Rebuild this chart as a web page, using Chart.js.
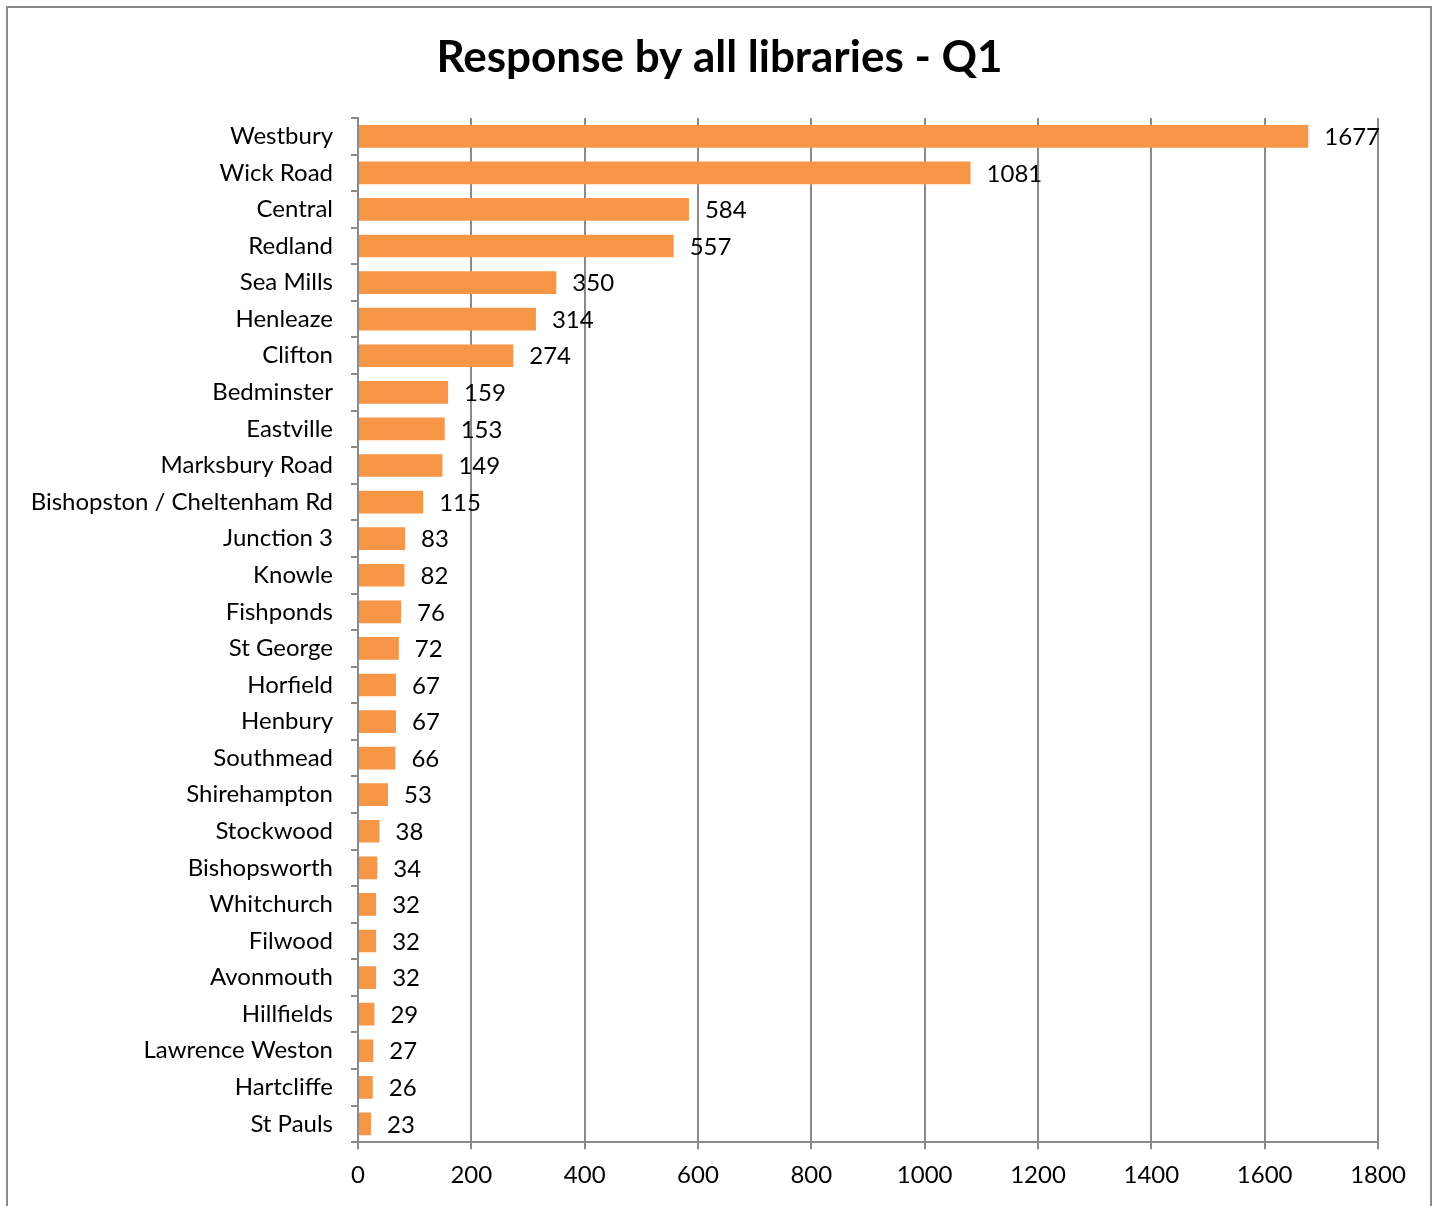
<!DOCTYPE html>
<html>
<head>
<meta charset="utf-8">
<title>Response by all libraries - Q1</title>
<script src="https://cdn.jsdelivr.net/npm/chart.js@4.4.1/dist/chart.umd.min.js"></script>
<style>
    html, body { margin: 0; padding: 0; background: #ffffff; overflow: hidden; }
    .frame {
        position: absolute;
        left: 6px;
        top: 6px;
        width: 1426px;
        height: 1220px;
        border: 2px solid #8a8a8a;
        box-sizing: border-box;
    }
    #libraryChart { position: absolute; left: 0; top: 0; }
</style>
</head>
<body>
<div class="frame"></div>
<canvas id="libraryChart" width="1439" height="1206"></canvas>
<script>
const chartTitle = 'Response by all libraries - Q1';
const libraries = [
    'Westbury', 'Wick Road', 'Central', 'Redland', 'Sea Mills', 'Henleaze', 'Clifton',
    'Bedminster', 'Eastville', 'Marksbury Road', 'Bishopston / Cheltenham Rd', 'Junction 3',
    'Knowle', 'Fishponds', 'St George', 'Horfield', 'Henbury', 'Southmead', 'Shirehampton',
    'Stockwood', 'Bishopsworth', 'Whitchurch', 'Filwood', 'Avonmouth', 'Hillfields',
    'Lawrence Weston', 'Hartcliffe', 'St Pauls'
];
const responses = [
    1677, 1081, 584, 557, 350, 314, 274,
    159, 153, 149, 115, 83,
    82, 76, 72, 67, 67, 66, 53,
    38, 34, 32, 32, 32, 29,
    27, 26, 23
];
const axisMax = 1800;
const axisStep = 200;

const FONT = 'Lato, "Open Sans", sans-serif';
const BAR_COLOR = '#F79646';
const GRID_COLOR = '#8a8a8a';

// title centred on the whole canvas rather than the padded layout box
const centredTitle = {
    id: 'centredTitle',
    afterDraw(chart) {
        const ctx = chart.ctx;
        ctx.save();
        ctx.font = `bold 44px ${FONT}`;
        ctx.fillStyle = '#000000';
        ctx.textAlign = 'center';
        ctx.textBaseline = 'middle';
        ctx.fillText(chartTitle, chart.width / 2, 58);
        ctx.restore();
    }
};

// writes each response count just past the end of its bar
const valueLabels = {
    id: 'valueLabels',
    afterDatasetsDraw(chart) {
        const ctx = chart.ctx;
        const meta = chart.getDatasetMeta(0);
        ctx.save();
        ctx.font = `24px ${FONT}`;
        ctx.fillStyle = '#000000';
        ctx.textAlign = 'left';
        ctx.textBaseline = 'middle';
        meta.data.forEach((bar, index) => {
            ctx.fillText(String(responses[index]), bar.x + 16, bar.y + 1);
        });
        ctx.restore();
    }
};

new Chart(document.getElementById('libraryChart'), {
    type: 'bar',
    data: {
        labels: libraries,
        datasets: [
            {
                label: 'Responses',
                data: responses,
                backgroundColor: BAR_COLOR,
                borderWidth: 0,
                barPercentage: 0.62,
                categoryPercentage: 1
            }
        ]
    },
    options: {
        indexAxis: 'y',
        responsive: false,
        animation: false,
        layout: {
            padding: { left: 10, right: 61, top: 118, bottom: 4 }
        },
        plugins: {
            legend: { display: false },
            tooltip: { enabled: false },
            title: { display: false }
        },
        scales: {
            x: {
                min: 0,
                max: axisMax,
                ticks: {
                    stepSize: axisStep,
                    color: '#000000',
                    padding: 12,
                    font: { family: FONT, size: 24 },
                    callback: (value) => String(value)
                },
                grid: {
                    color: GRID_COLOR,
                    lineWidth: 2,
                    tickLength: 7,
                    drawTicks: true
                },
                border: { color: GRID_COLOR, width: 2 }
            },
            y: {
                afterFit: (scale) => { scale.width = 348; },
                ticks: {
                    color: '#000000',
                    padding: 18,
                    autoSkip: false,
                    font: { family: FONT, size: 24 }
                },
                grid: {
                    offset: true,
                    drawOnChartArea: false,
                    color: GRID_COLOR,
                    lineWidth: 2,
                    tickLength: 7
                },
                border: { color: GRID_COLOR, width: 2 }
            }
        }
    },
    plugins: [valueLabels, centredTitle]
});
</script>
</body>
</html>
